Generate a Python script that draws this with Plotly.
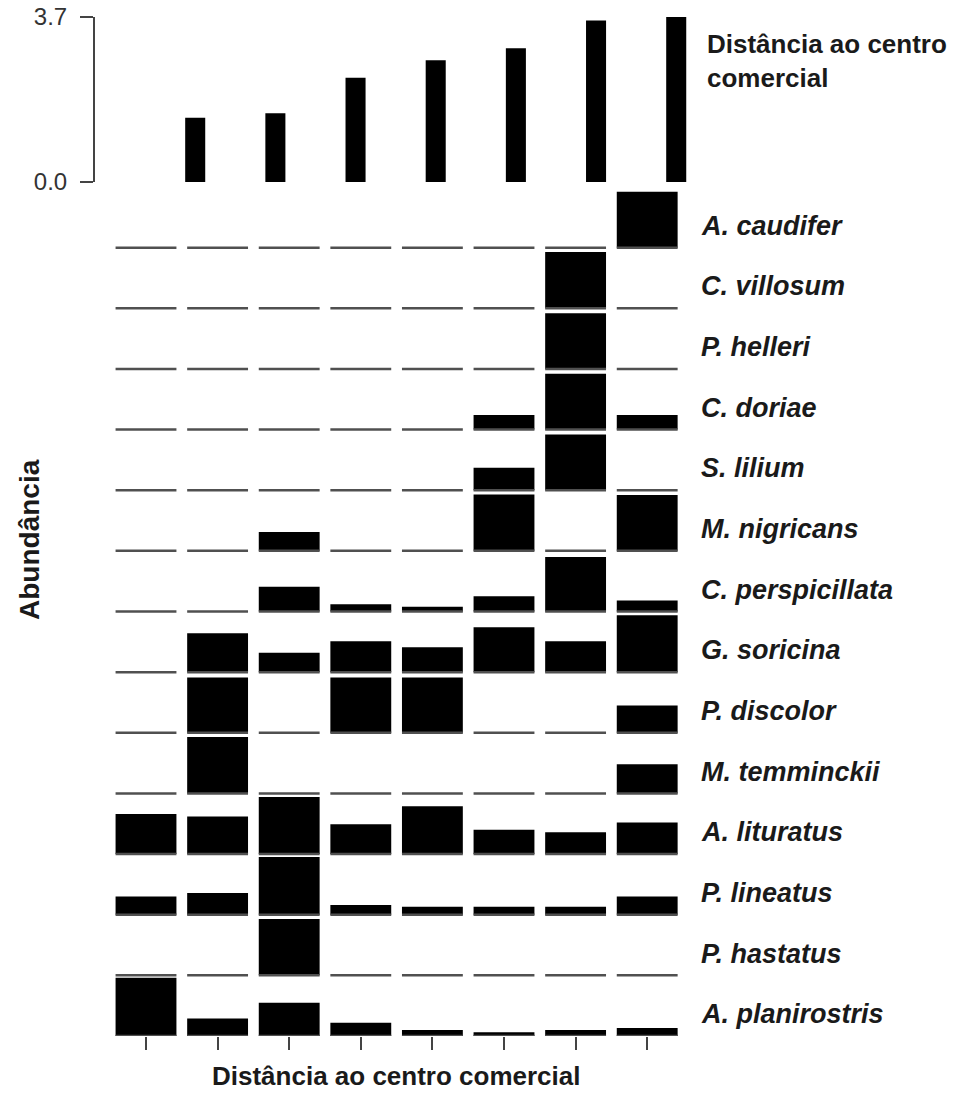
import plotly.graph_objects as go

# ---- data ----
sites = [1, 2, 3, 4, 5, 6, 7, 8]
distance = [0.0, 1.44, 1.54, 2.34, 2.73, 3.00, 3.62, 3.70]
dist_ticks = [0.0, 3.7]
dist_ticktext = ["0.0", "3.7"]

species = [
    "A. caudifer", "C. villosum", "P. helleri", "C. doriae", "S. lilium",
    "M. nigricans", "C. perspicillata", "G. soricina", "P. discolor",
    "M. temminckii", "A. lituratus", "P. lineatus", "P. hastatus", "A. planirostris",
]

# relative abundance per species (scaled to each species' maximum)
a_caudifer = [0, 0, 0, 0, 0, 0, 0, 0.92]
c_villosum = [0, 0, 0, 0, 0, 0, 0.93, 0]
p_helleri = [0, 0, 0, 0, 0, 0, 0.92, 0]
c_doriae = [0, 0, 0, 0, 0, 0.24, 0.92, 0.24]
s_lilium = [0, 0, 0, 0, 0, 0.37, 0.92, 0]
m_nigricans = [0, 0, 0.31, 0, 0, 0.93, 0, 0.92]
c_perspicillata = [0, 0, 0.41, 0.12, 0.08, 0.25, 0.90, 0.18]
g_soricina = [0, 0.64, 0.32, 0.51, 0.41, 0.74, 0.51, 0.94]
p_discolor = [0, 0.91, 0, 0.91, 0.91, 0, 0, 0.45]
m_temminckii = [0, 0.93, 0, 0, 0, 0, 0, 0.48]
a_lituratus = [0.66, 0.62, 0.94, 0.49, 0.79, 0.40, 0.36, 0.52]
p_lineatus = [0.30, 0.36, 0.95, 0.16, 0.13, 0.13, 0.13, 0.30]
p_hastatus = [0, 0, 0.93, 0, 0, 0, 0, 0]
a_planirostris = [0.96, 0.29, 0.55, 0.22, 0.10, 0.06, 0.10, 0.13]

abundance = [
    a_caudifer, c_villosum, p_helleri, c_doriae, s_lilium, m_nigricans,
    c_perspicillata, g_soricina, p_discolor, m_temminckii, a_lituratus,
    p_lineatus, p_hastatus, a_planirostris,
]

# ---- style ----
W, H = 955, 1093
FONT = "Liberation Sans, Arial, sans-serif"
TXT = "#1a1a1a"
BAR_W = 0.85
n = len(species)

fig = go.Figure()

# baseline segments (drawn under bars)
lx, ly = [], []
for r, name in enumerate(species):
    base = n - 1 - r
    for s in sites:
        lx += [s - BAR_W / 2, s + BAR_W / 2, None]
        ly += [base, base, None]
fig.add_trace(go.Scatter(x=lx, y=ly, mode="lines",
                         line=dict(color="#505050", width=2.5),
                         hoverinfo="skip", showlegend=False,
                         xaxis="x", yaxis="y"))

# abundance bars
for r, name in enumerate(species):
    base = n - 1 - r
    fig.add_trace(go.Bar(x=sites, y=abundance[r], base=[base] * len(sites),
                         width=BAR_W, marker=dict(color="black", line=dict(width=0)),
                         name=name, showlegend=False, xaxis="x", yaxis="y"))

# distance bars
fig.add_trace(go.Bar(x=sites, y=distance, width=0.25,
                     marker=dict(color="black", line=dict(width=0)),
                     showlegend=False, xaxis="x2", yaxis="y2"))

def px_x(p):
    return p / W

def px_y(p):
    return 1 - p / H

annotations = []
for r, name in enumerate(species):
    base = n - 1 - r
    annotations.append(dict(
        text=f"<b><i>{name}</i></b>", x=px_x(699), xref="paper",
        y=base + 0.36, yref="y", xanchor="left", yanchor="middle",
        showarrow=False, font=dict(family=FONT, size=27, color=TXT)))

annotations.append(dict(
    text="<b>Distância ao centro<br>comercial</b>", x=px_x(705), xref="paper",
    y=px_y(61), yref="paper", xanchor="left", yanchor="middle", align="left",
    showarrow=False, font=dict(family=FONT, size=26, color=TXT)))
annotations.append(dict(
    text="<b>Distância ao centro comercial</b>", x=px_x(396), xref="paper",
    y=px_y(1076), yref="paper", xanchor="center", yanchor="middle",
    showarrow=False, font=dict(family=FONT, size=26, color=TXT)))
annotations.append(dict(
    text="<b>Abundância</b>", x=px_x(30), xref="paper",
    y=px_y(540), yref="paper", xanchor="center", yanchor="middle",
    textangle=-90, showarrow=False, font=dict(family=FONT, size=28, color=TXT)))

fig.update_layout(
    template="none",
    width=W, height=H,
    margin=dict(l=0, r=0, t=0, b=0, pad=0, autoexpand=False),
    paper_bgcolor="white", plot_bgcolor="rgba(0,0,0,0)",
    barmode="overlay",
    annotations=annotations,
    xaxis=dict(domain=[px_x(110.2), px_x(683)], range=[0.5, 8.5],
               tickvals=sites, ticktext=[""] * len(sites), automargin=False,
               ticks="outside", ticklen=13, tickwidth=2, tickcolor="#444",
               showline=False, showgrid=False, zeroline=False, fixedrange=True),
    yaxis=dict(domain=[px_y(1036), px_y(187)], range=[0, 14.0], automargin=False,
               visible=False, showgrid=False, zeroline=False, fixedrange=True),
    xaxis2=dict(domain=[px_x(95), px_x(716.3)], range=[0.75, 8.5], automargin=False,
                anchor="y2", visible=False, showgrid=False, zeroline=False),
    yaxis2=dict(domain=[px_y(182), px_y(17)], range=[0, 3.7], anchor="x2",
                automargin=False,
                tickvals=dist_ticks, ticktext=dist_ticktext,
                ticks="outside", ticklen=13, tickwidth=2, tickcolor="#444",
                showline=True, linecolor="#444", linewidth=2,
                ticklabelstandoff=8,
                tickfont=dict(family=FONT, size=24, color="#333"),
                showgrid=False, zeroline=False),
)

fig.write_html("out.html")
